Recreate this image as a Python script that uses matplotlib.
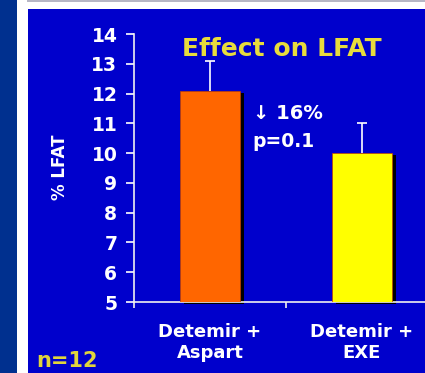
import matplotlib
matplotlib.use("Agg")
import matplotlib.pyplot as plt
import matplotlib.transforms as mtransforms
from matplotlib.patches import Rectangle
from matplotlib.lines import Line2D

plt.rcParams['font.family'] = ['DejaVu Sans']
plt.rcParams['font.weight'] = 'bold'

# data
groups = ["Detemir +\nAspart", "Detemir +\nEXE"]
lfat = [12.1, 10.0]
lfat_err = [1.0, 1.0]
bar_colors = ["#FF6600", "#FFFF00"]
y_ticks = [5, 6, 7, 8, 9, 10, 11, 12, 13, 14]

W, H = 425, 373
fig = plt.figure(figsize=(W / 100, H / 100), dpi=100)
fig.patch.set_facecolor("white")

# slide background: navy strip on the left, blue panel, grey rule at top
fig.add_artist(Rectangle((0, 0), 17 / W, 1, transform=fig.transFigure,
                         facecolor="#00308F", edgecolor="none", zorder=0))
fig.add_artist(Rectangle((28 / W, 0), 1, (H - 8.5) / H, transform=fig.transFigure,
                         facecolor="#0000CC", edgecolor="none", zorder=0))
fig.add_artist(Line2D([28 / W, 1], [1 - 0.7 / H, 1 - 0.7 / H], transform=fig.transFigure,
                      color="#B4B4C4", lw=1.4, zorder=1))

# axes: y 5..14 spans px 302..34, categories 0.5..2.5 span px 134..438
ax = fig.add_axes([134 / W, 71 / H, 304 / W, 268 / H])
ax.set_facecolor("none")
ax.set_xlim(0.5, 2.5)
ax.set_ylim(5, 14)

x = [1, 2]
heights = [v - 5 for v in lfat]
tops = [v + e for v, e in zip(lfat, lfat_err)]

# drop shadow behind each bar
shadow = mtransforms.offset_copy(ax.transData, fig=fig, x=4, y=-2, units="dots")
ax.bar(x, heights, bottom=5, width=0.39, color="black", transform=shadow,
       clip_on=False, zorder=2)
ax.bar(x, heights, bottom=5, width=0.39, color=bar_colors, edgecolor="#C04000",
       linewidth=0.5, zorder=3)

# upper error bars only, cap at the top
ax.vlines(x, lfat, tops, color="white", lw=1.2, zorder=4)
ax.hlines(tops, [xi - 0.03 for xi in x], [xi + 0.03 for xi in x], color="white",
          lw=1.2, zorder=4)

for s in ["top", "right"]:
    ax.spines[s].set_visible(False)
for s in ["left", "bottom"]:
    ax.spines[s].set_color("#F0F0F0")
    ax.spines[s].set_linewidth(1.2)

ax.set_yticks(y_ticks)
ax.set_yticklabels([str(t) for t in y_ticks])
ax.tick_params(axis="y", colors="white", direction="out", length=6, width=1.2,
               labelsize=13.5, pad=6)
ax.set_xticks([0.5, 1.5, 2.5])
ax.set_xticklabels([])
ax.tick_params(axis="x", colors="#F0F0F0", direction="out", length=4, width=1.2)
for lab in ax.get_yticklabels():
    lab.set_fontweight("bold")

for xi, g in zip(x, groups):
    ax.text(xi, -0.08, g, transform=ax.get_xaxis_transform(), ha="center", va="top",
            color="white", fontsize=13, fontweight="bold", linespacing=1.2)

ax.text(0.816, 13.25, "Effect on LFAT", color="#E8DC3C", fontsize=18, fontweight="bold",
        ha="left", va="baseline")
ax.text(1.28, 11.15, "\u2193 16%", color="white", fontsize=14, fontweight="bold",
        ha="left", va="baseline")
ax.text(1.28, 10.2, "p=0.1", color="white", fontsize=13.5, fontweight="bold",
        ha="left", va="baseline")

fig.text(60 / W, 1 - 167 / H, "% LFAT", rotation=90, color="white", fontsize=12,
         fontweight="bold", ha="center", va="center")
fig.text(36 / W, 1 - 367 / H, "n=12", color="#E0D43C", fontsize=15, fontweight="bold",
         ha="left", va="baseline")

fig.savefig("out.png", dpi=100)
